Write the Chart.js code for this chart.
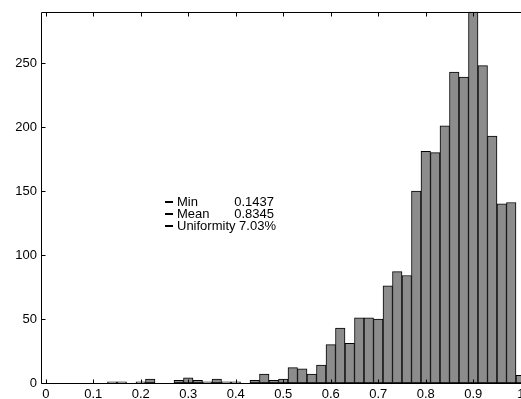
<!DOCTYPE html>
<html>
<head>
<meta charset="utf-8">
<script src="https://cdn.jsdelivr.net/npm/chart.js@4/dist/chart.umd.min.js"></script>
<style>
  html, body { margin: 0; padding: 0; background: #fff; }
  #wrap { width: 521px; height: 399px; overflow: hidden; }
</style>
</head>
<body>
<div id="wrap"><canvas id="c" width="532" height="399"></canvas></div>
<script>
// histogram bins (centre of each 0.02 wide bin) and counts
const binCenters = [
  0.00, 0.02, 0.04, 0.06, 0.08, 0.10, 0.12, 0.14, 0.16, 0.18,
  0.20, 0.22, 0.24, 0.26, 0.28, 0.30, 0.32, 0.34, 0.36, 0.38,
  0.40, 0.42, 0.44, 0.46, 0.48, 0.50, 0.52, 0.54, 0.56, 0.58,
  0.60, 0.62, 0.64, 0.66, 0.68, 0.70, 0.72, 0.74, 0.76, 0.78,
  0.80, 0.82, 0.84, 0.86, 0.88, 0.90, 0.92, 0.94, 0.96, 0.98, 1.00
];
const counts = [
  0, 0, 0, 0, 0, 0, 0, 1, 1, 0,
  1, 3, 0, 0, 2, 4, 2, 1, 3, 1,
  1, 0, 2, 7, 2, 3, 12, 11, 7, 14,
  30, 43, 31, 51, 51, 50, 76, 87, 84, 150,
  181, 180, 201, 243, 239, 290, 248, 193, 140, 141, 6
];
const xTickValues = [0, 0.1, 0.2, 0.3, 0.4, 0.5, 0.6, 0.7, 0.8, 0.9, 1];
const xTickLabels = ['0', '0.1', '0.2', '0.3', '0.4', '0.5', '0.6', '0.7', '0.8', '0.9', '1'];
const yTickValues = [0, 50, 100, 150, 200, 250];
const statLabels = ['Min', 'Mean', 'Uniformity'];
const statValues = ['0.1437', '0.8345', '7.03%'];

const FONT = '13px "Liberation Sans", Arial, Helvetica, sans-serif';

// box round the plot with matlab style inward ticks
const frameTicks = {
  id: 'frameTicks',
  afterDatasetsDraw(chart) {
    const { ctx, chartArea: a, scales: { x, y } } = chart;
    const L = Math.round(a.left) + 0.5, R = Math.round(a.right) + 0.5;
    const T = Math.round(a.top) + 0.5, B = Math.round(a.bottom) + 0.5;
    ctx.save();
    ctx.strokeStyle = '#000';
    ctx.lineWidth = 1;
    ctx.beginPath();
    ctx.rect(L, T, R - L, B - T);
    x.ticks.forEach(t => {
      const px = Math.round(x.getPixelForValue(t.value)) + 0.5;
      ctx.moveTo(px, B); ctx.lineTo(px, B - 4);
      ctx.moveTo(px, T); ctx.lineTo(px, T + 4);
    });
    y.ticks.forEach(t => {
      const py = Math.round(y.getPixelForValue(t.value)) + 0.5;
      ctx.moveTo(L, py); ctx.lineTo(L + 4, py);
      ctx.moveTo(R, py); ctx.lineTo(R - 4, py);
    });
    ctx.stroke();
    ctx.restore();
  }
};

// little text legend in the middle of the plot
const statBox = {
  id: 'statBox',
  afterDraw(chart) {
    const ctx = chart.ctx;
    ctx.save();
    ctx.font = FONT;
    ctx.fillStyle = '#000';
    ctx.textBaseline = 'middle';
    const x0 = 177, valRight = 274;
    statLabels.forEach((lab, i) => {
      const yy = 202 + i * 12;
      ctx.fillRect(165, yy - 1, 8, 2);
      ctx.textAlign = 'left';
      ctx.fillText(lab, x0, yy);
      const minX = x0 + ctx.measureText(lab + ' ').width;
      const vx = Math.max(minX, valRight - ctx.measureText(statValues[i]).width);
      ctx.fillText(statValues[i], vx, yy);
    });
    ctx.restore();
  }
};

new Chart(document.getElementById('c').getContext('2d'), {
  type: 'bar',
  data: {
    datasets: [{
      data: binCenters.map((c, i) => ({ x: c, y: counts[i] })),
      backgroundColor: '#8c8c8c',
      borderColor: '#000',
      borderWidth: 1,
      borderSkipped: false,
      barPercentage: 1,
      categoryPercentage: 1
    }]
  },
  options: {
    responsive: false,
    animation: false,
    layout: { padding: { top: 9.5, right: 6.5, left: 0, bottom: 0 } },
    plugins: { legend: { display: false }, tooltip: { enabled: false } },
    scales: {
      x: {
        type: 'linear', offset: false, min: -0.01, max: 1.01,
        grid: { display: false, drawTicks: false },
        border: { display: false },
        afterBuildTicks: s => { s.ticks = xTickValues.map(v => ({ value: v })); },
        afterFit: s => { s.height = 16; },
        ticks: {
          padding: 4, color: '#000', maxRotation: 0, autoSkip: false,
          font: { family: '"Liberation Sans", Arial, Helvetica, sans-serif', size: 13 },
          callback: (v, i) => xTickLabels[i]
        }
      },
      y: {
        min: 0, max: 290,
        grid: { display: false, drawTicks: false },
        border: { display: false },
        afterBuildTicks: s => { s.ticks = yTickValues.map(v => ({ value: v })); },
        afterFit: s => { s.width = 41; },
        ticks: {
          padding: 4, color: '#000',
          font: { family: '"Liberation Sans", Arial, Helvetica, sans-serif', size: 13 },
          callback: v => String(v)
        }
      }
    }
  },
  plugins: [frameTicks, statBox]
});
</script>
</body>
</html>
